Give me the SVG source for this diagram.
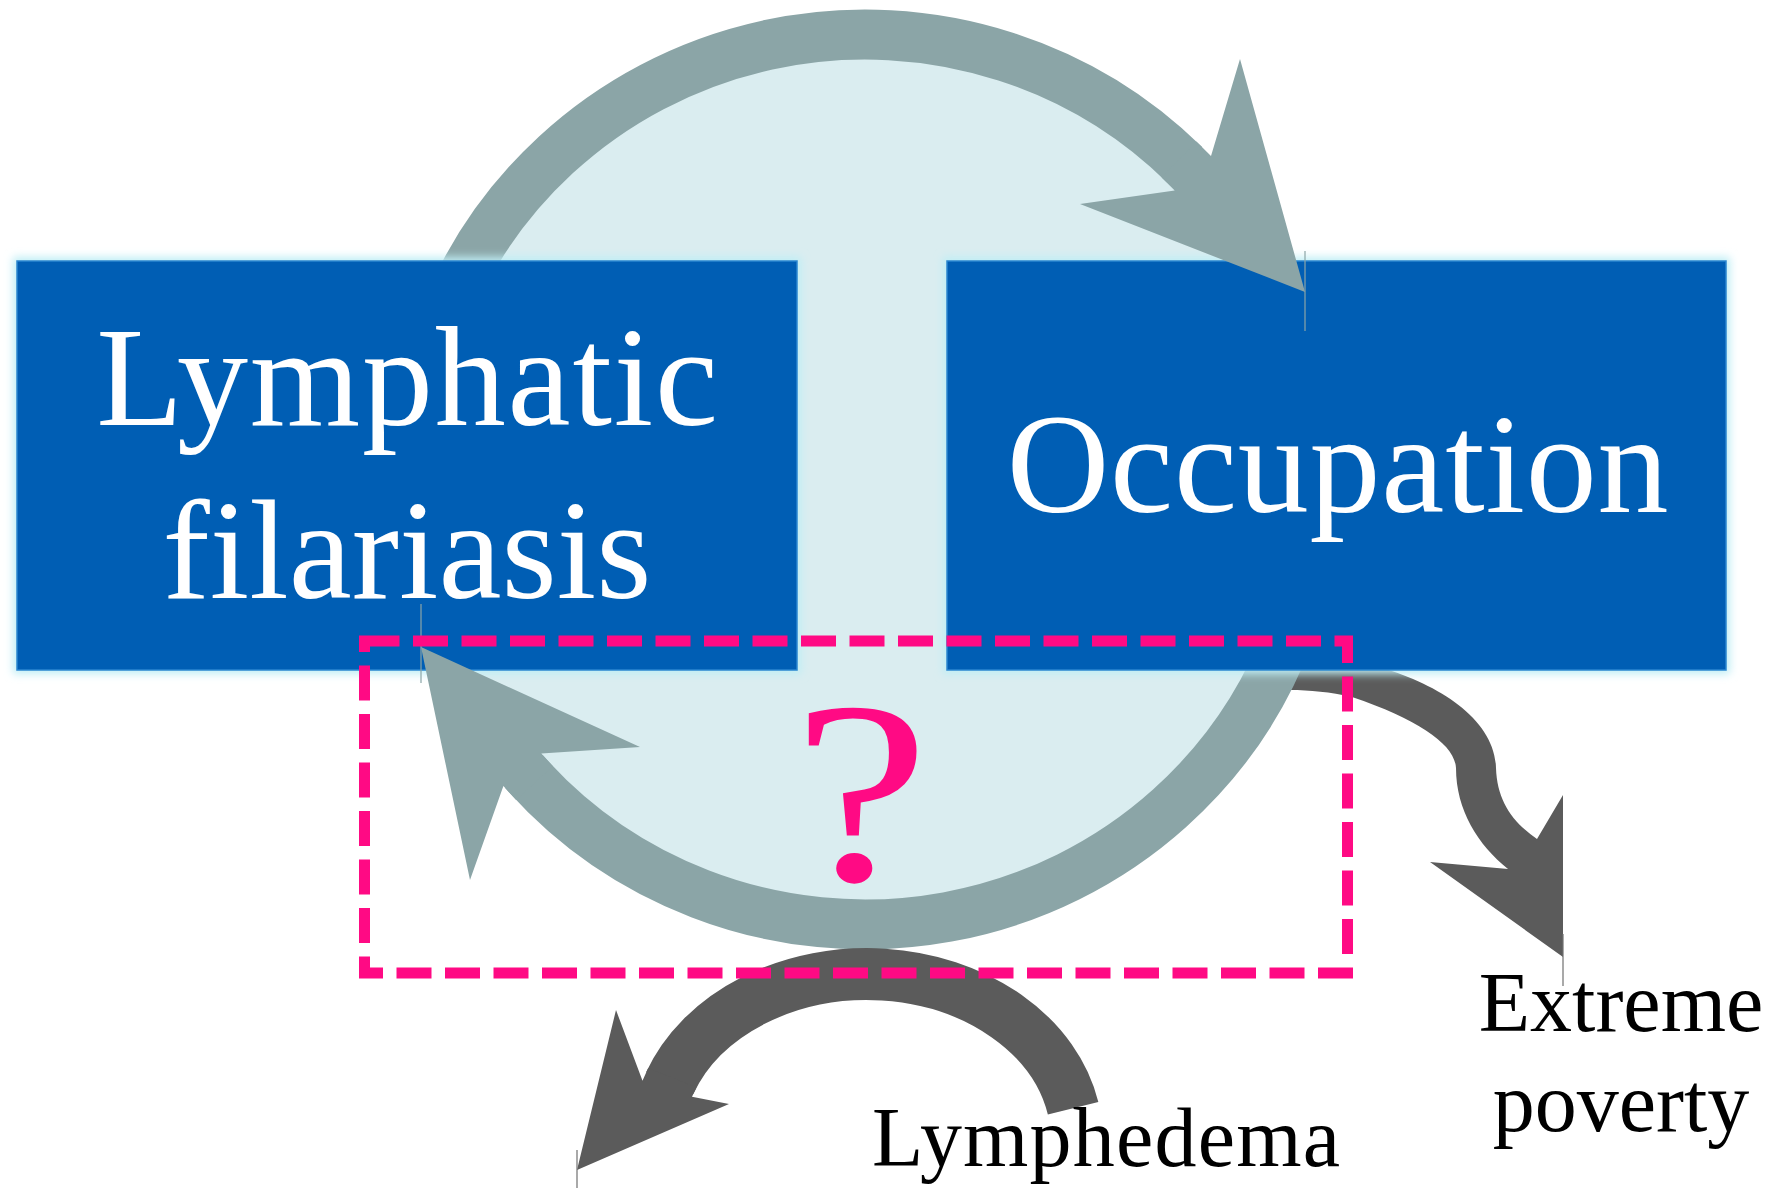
<svg xmlns="http://www.w3.org/2000/svg" width="1785" height="1188" viewBox="0 0 1785 1188">
<defs>
<style>
.box{fill:#005EB4;stroke:#2a86d0;stroke-width:1.5}
.glow{fill:#bfeef5;filter:url(#blur)}
.ring{fill:none;stroke:#8BA5A7;stroke-width:50}
.grayhead{fill:#8BA5A7}
.dark{fill:#5B5B5B}
.darkstroke{fill:none;stroke:#5B5B5B;stroke-width:52}
.hair{stroke:#8BA5A7;stroke-width:1.2}
.hairdark{stroke:#707070;stroke-width:1.2}
.boxtext{font-family:"Liberation Serif","Times New Roman",serif;font-size:142px;fill:#FFFFFF;text-anchor:middle}
.label{font-family:"Liberation Serif","Times New Roman",serif;font-size:84px;fill:#000000}
.dash{fill:none;stroke:#FF0A84;stroke-width:11;stroke-dasharray:35 13.5}
</style>
<filter id="blur" x="-10%" y="-10%" width="120%" height="120%"><feGaussianBlur stdDeviation="4"/></filter>
</defs>
<rect width="1785" height="1188" fill="#FFFFFF"/>

<g id="cycle-background">
<ellipse cx="865" cy="479.5" rx="452" ry="445" fill="#DAEDF0"/>
</g>

<g id="connectors">
<!-- dark arrow to Extreme poverty -->
<path class="dark" d="M1380 660 L1382 668 C1440 685 1495 720 1496 768 C1497 800 1512 822 1537 839 L1563 795 L1563 957 L1430 862 L1508 869 C1478 845 1456 810 1456 768 C1455 745 1420 720 1352 697 C1330 692 1310 690 1290 690 L1250 690 L1250 660 Z"/>
<!-- gray cycle arcs -->
<path class="ring" d="M440.3 327.3 A452 445 0 0 1 1184.6 164.8"/>
<path class="ring" d="M1289.7 631.7 A452 445 0 0 1 523.9 771.5"/>
</g>

<g id="node-lymphatic-filariasis">
<rect class="glow" x="13" y="257" width="788" height="417"/>
<rect class="box" x="17" y="261" width="780" height="409"/>
</g>
<g id="node-occupation">
<rect class="glow" x="943" y="257" width="787" height="417"/>
<rect class="box" x="947" y="261" width="779" height="409"/>
</g>

<g id="connector-heads">
<polygon class="grayhead" points="1240,59 1305,292 1080,204 1174.7,190.4 1161.6,177.4 1196.4,141.4 1211,156"/>
<polygon class="grayhead" points="421,647 640,747 541.3,753.4 552.7,765.9 516.1,800 503.4,786 470,880"/>
<line class="hair" x1="1305" y1="251" x2="1305" y2="331"/>
<line class="hair" x1="421" y1="604" x2="421" y2="683"/>
</g>

<g id="labels-boxes">
<text class="boxtext" x="408" y="425" letter-spacing="1.8">Lymphatic</text>
<text class="boxtext" x="407" y="598">filariasis</text>
<text class="boxtext" x="1338" y="512" letter-spacing="0.8">Occupation</text>
</g>

<g id="lymphedema-arrow">
<path class="darkstroke" d="M1073.1 1108.3 A210 166 0 0 0 669.7 1083.2"/>
<polygon class="dark" points="616,1010 577,1170 729,1104 692,1096.7 696.4,1087.6 648.2,1068.1 642.5,1080.7"/>
<line class="hairdark" x1="577" y1="1150" x2="577" y2="1188"/>
<line class="hairdark" x1="1563" y1="934" x2="1563" y2="986"/>
</g>

<g id="question-region">
<rect class="dash" x="364.5" y="641" width="983" height="332"/>
<text transform="translate(861 880) scale(1.18 1)" x="0" y="0" font-family="Liberation Serif, Times New Roman, serif" font-size="260" fill="#FF0A84" text-anchor="middle">?</text>
</g>

<g id="node-lymphedema">
<text class="label" x="872" y="1166" letter-spacing="1.2">Lymphedema</text>
</g>
<g id="node-extreme-poverty">
<text class="label" x="1621" y="1031" text-anchor="middle">Extreme</text>
<text class="label" x="1621" y="1131" text-anchor="middle">poverty</text>
</g>
</svg>
